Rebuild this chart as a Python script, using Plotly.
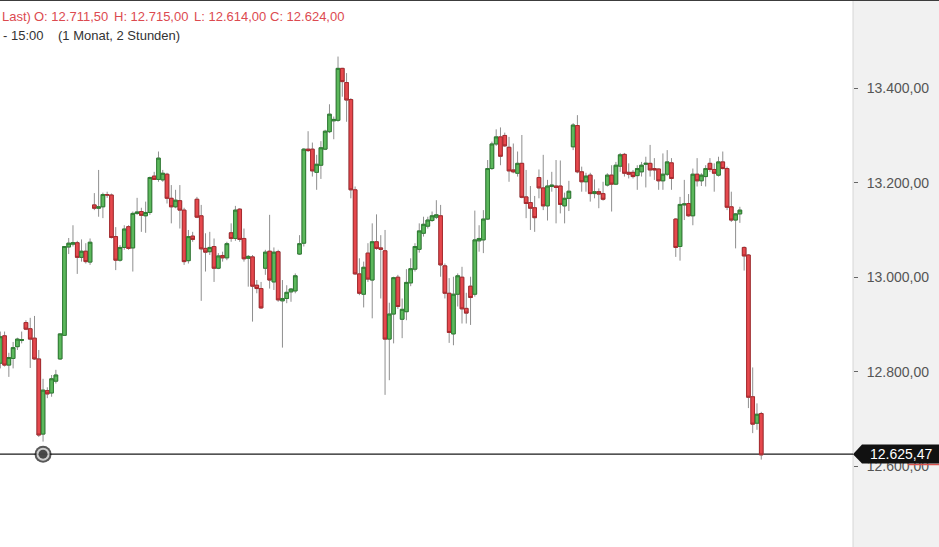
import plotly.graph_objects as go

# ---------------- data (2h candles) ----------------
open_ = [12818, 12876, 12814, 12828, 12853, 12866, 12904, 12891, 12871, 12827,
         12668, 12760, 12755, 12780, 12827, 12877, 13064, 13070, 13073, 13042,
         13055, 13032, 13153, 13146, 13149, 13175, 13174, 13086, 13036, 13063,
         13107, 13062, 13135, 13139, 13130, 13137, 13214, 13207, 13206, 13218,
         13167, 13149, 13162, 13142, 13035, 13087, 13165, 13130, 13061, 13054,
         13065, 13019, 13046, 13041, 13094, 13082, 13144, 13082, 13040, 13043,
         12983, 12976, 13019, 13055, 12990, 13054, 12950, 12955, 12969, 12971,
         13049, 13072, 13271, 13271, 13222, 13237, 13271, 13308, 13331, 13332,
         13442, 13412, 13376, 13185, 13007, 12964, 13051, 12994, 13075, 13062,
         13056, 12869, 12922, 13000, 12911, 12927, 12988, 13017, 13059, 13093,
         13108, 13120, 13127, 13130, 13024, 12966, 12880, 12964, 13000, 12934,
         12981, 12964, 13077, 13079, 13123, 13230, 13282, 13297, 13300, 13275,
         13227, 13220, 13241, 13170, 13158, 13147, 13211, 13189, 13151, 13192,
         13193, 13193, 13151, 13167, 13276, 13321, 13223, 13202, 13216, 13177,
         13181, 13177, 13195, 13216, 13197, 13235, 13260, 13222, 13222, 13215,
         13223, 13239, 13241, 13230, 13229, 13204, 13218, 13242, 13123, 13065,
         13153, 13156, 13130, 13218, 13204, 13213, 13241, 13228, 13216, 13244,
         13230, 13149, 13121, 13134, 13063, 13047, 12747, 12691, 12711.5]
high = [12885, 12885, 12840, 12863, 12872, 12885, 12909, 12914, 12918, 12846,
        12785, 12767, 12793, 12804, 12881, 13066, 13083, 13110, 13077, 13080,
        13072, 13082, 13178, 13227, 13179, 13181, 13177, 13106, 13068, 13110,
        13110, 13139, 13168, 13147, 13160, 13213, 13223, 13266, 13227, 13221,
        13195, 13185, 13195, 13147, 13100, 13096, 13170, 13153, 13093, 13096,
        13082, 13051, 13054, 13075, 13114, 13151, 13146, 13103, 13047, 13047,
        12994, 12990, 13058, 13132, 13063, 13058, 12994, 12983, 12977, 13008,
        13089, 13273, 13309, 13285, 13259, 13288, 13312, 13366, 13340, 13467,
        13443, 13432, 13379, 13192, 13040, 13033, 13072, 13114, 13133, 13089,
        13100, 12946, 13001, 13005, 12955, 13017, 13040, 13072, 13114, 13128,
        13128, 13139, 13163, 13153, 13029, 12998, 13001, 13008, 13022, 12967,
        13001, 13141, 13110, 13142, 13248, 13287, 13313, 13317, 13306, 13297,
        13283, 13266, 13301, 13227, 13193, 13172, 13228, 13259, 13206, 13223,
        13248, 13247, 13179, 13204, 13326, 13343, 13234, 13221, 13221, 13207,
        13188, 13202, 13220, 13237, 13244, 13263, 13263, 13241, 13227, 13237,
        13244, 13255, 13280, 13252, 13230, 13262, 13269, 13252, 13125, 13170,
        13206, 13176, 13230, 13252, 13220, 13237, 13252, 13241, 13255, 13266,
        13234, 13181, 13136, 13149, 13065, 13049, 12809, 12733, 12715]
low = [12807, 12811, 12789, 12807, 12846, 12860, 12888, 12808, 12825, 12662,
       12652, 12744, 12747, 12775, 12825, 12876, 13049, 13065, 13007, 13033,
       13029, 13026, 13142, 13128, 13125, 13168, 13082, 13015, 13033, 13058,
       13058, 13012, 13132, 13096, 13094, 13132, 13206, 13202, 13202, 13156,
       13114, 13146, 13103, 13026, 13029, 13075, 13125, 12950, 13012, 13047,
       12990, 13017, 13033, 13036, 13075, 13077, 13075, 13033, 12980, 12906,
       12966, 12933, 13005, 12976, 12973, 12948, 12851, 12945, 12948, 12966,
       13047, 13065, 13265, 13213, 13185, 13208, 13269, 13305, 13292, 13329,
       13382, 13329, 13167, 13005, 12962, 12936, 12990, 12913, 13058, 12955,
       12751, 12782, 12860, 12933, 12871, 12909, 12981, 13012, 13052, 13086,
       13103, 13117, 13123, 13001, 12955, 12861, 12856, 12938, 12902, 12902,
       12899, 12959, 13054, 13051, 13121, 13227, 13278, 13237, 13276, 13202,
       13220, 13213, 13167, 13125, 13100, 13096, 13167, 13142, 13120, 13181,
       13114, 13135, 13114, 13140, 13269, 13220, 13181, 13181, 13160, 13167,
       13146, 13162, 13192, 13139, 13195, 13223, 13213, 13209, 13209, 13185,
       13213, 13190, 13213, 13206, 13185, 13185, 13214, 13185, 13043, 13035,
       13121, 13128, 13110, 13192, 13193, 13192, 13223, 13181, 13213, 13228,
       13142, 13117, 13061, 13115, 13014, 12723, 12670, 12677, 12614]
close = [12874, 12814, 12830, 12851, 12869, 12868, 12890, 12869, 12827, 12666,
         12761, 12753, 12785, 12793, 12880, 13065, 13072, 13073, 13042, 13055,
         13033, 13074, 13146, 13149, 13175, 13174, 13084, 13036, 13063, 13102,
         13061, 13135, 13138, 13131, 13137, 13211, 13207, 13252, 13220, 13167,
         13149, 13163, 13142, 13033, 13086, 13080, 13127, 13060, 13053, 13063,
         13019, 13045, 13041, 13071, 13082, 13142, 13080, 13039, 13044, 12981,
         12976, 12935, 13053, 12994, 13053, 12952, 12955, 12968, 12975, 13003,
         13071, 13271, 13268, 13225, 13239, 13274, 13309, 13345, 13334, 13442,
         13414, 13375, 13185, 13007, 12966, 13021, 12996, 13075, 13061, 13059,
         12869, 12922, 12999, 12938, 12932, 12989, 13018, 13065, 13098, 13112,
         13121, 13130, 13132, 13026, 12966, 12883, 12964, 13003, 12933, 12924,
         12957, 13079, 13082, 13123, 13230, 13282, 13297, 13256, 13278, 13225,
         13223, 13241, 13169, 13156, 13146, 13126, 13189, 13151, 13193, 13195,
         13190, 13154, 13167, 13182, 13322, 13223, 13202, 13214, 13177, 13181,
         13176, 13165, 13216, 13197, 13237, 13259, 13220, 13218, 13213, 13230,
         13237, 13241, 13227, 13227, 13204, 13218, 13244, 13209, 13063, 13154,
         13155, 13130, 13218, 13204, 13216, 13230, 13228, 13220, 13244, 13230,
         13148, 13121, 13134, 13142, 13045, 12746, 12689, 12710, 12624]

last_price = 12625.47
marked_candle = 10
y_ticks = [12600, 12800, 13000, 13200, 13400]
period_text = ["- 15:00", "(1 Monat, 2 Stunden)"]

# ---------------- helpers ----------------
def de(v):
    s = format(v, ",.2f")
    return s.replace(",", "X").replace(".", ",").replace("X", ".")

x = list(range(len(open_)))
body_hi = [max(o, c) for o, c in zip(open_, close)]
body_lo = [min(o, c) for o, c in zip(open_, close)]

W, H = 939, 547
PLOT_W = 853
px = lambda p: p / PLOT_W  # pixel -> paper x

WICK = "#8f8f8f"
G_FILL, G_LINE = "#5cb85c", "#2e7d32"
R_FILL, R_LINE = "#e5484d", "#a82a2e"
FONT = "Liberation Sans, Arial, sans-serif"

fig = go.Figure()
# wicks (gray)
fig.add_trace(go.Candlestick(
    x=x, open=open_, high=high, low=low, close=close,
    increasing=dict(line=dict(color=WICK, width=1), fillcolor=WICK),
    decreasing=dict(line=dict(color=WICK, width=1), fillcolor=WICK),
    whiskerwidth=0, hoverinfo="skip", showlegend=False))
# bodies
fig.add_trace(go.Candlestick(
    x=x, open=open_, high=body_hi, low=body_lo, close=close,
    increasing=dict(line=dict(color=G_LINE, width=1), fillcolor=G_FILL),
    decreasing=dict(line=dict(color=R_LINE, width=1), fillcolor=R_FILL),
    whiskerwidth=0, hoverinfo="skip", showlegend=False))
# marker on the price line
fig.add_trace(go.Scatter(
    x=[marked_candle] * 3, y=[last_price] * 3, mode="markers",
    marker=dict(size=[17, 13, 9], color=["#111", "#fff", "#111"], line=dict(width=0)),
    hoverinfo="skip", showlegend=False, cliponaxis=False))

y_top = 13586.7
y_bot = 12429.0
ppx = (y_top - y_bot) / H  # value per pixel
vy = lambda p: y_top - p * ppx

shapes = [
    # right axis panel
    dict(type="rect", xref="paper", yref="paper", x0=1, x1=px(W), y0=0, y1=1,
         fillcolor="#f1f1f1", line=dict(width=0), layer="below"),
    dict(type="line", xref="paper", yref="paper", x0=1, x1=1, y0=0, y1=1,
         line=dict(color="#d6d6d6", width=1), layer="below"),
    # top border
    dict(type="line", xref="paper", yref="paper", x0=0, x1=px(W), y0=1, y1=1,
         line=dict(color="#3c3c3c", width=2), layer="above"),
    # price line
    dict(type="line", xref="paper", yref="y", x0=0, x1=1, y0=last_price, y1=last_price,
         line=dict(color="#1a1a1a", width=1.3), layer="below"),
    # red close marker edge
    dict(type="line", xref="paper", yref="y", x0=px(908), x1=px(W),
         y0=vy(464.5), y1=vy(464.5), line=dict(color="#d9534f", width=1.5), layer="above"),
    # black price label
    dict(type="path", xref="paper", yref="y",
         path=(f"M {px(853)},{last_price} L {px(862)},{vy(444.5)} L {px(W)},{vy(444.5)} "
               f"L {px(W)},{vy(463.5)} L {px(862)},{vy(463.5)} Z"),
         fillcolor="#111111", line=dict(width=0), layer="above"),
]

red = "#dc4a50"
ann = []
ohlc_items = [("Last)", None, 0), ("O: ", open_[-1], 32), ("H: ", high[-1], 112),
              ("L: ", low[-1], 192), ("C: ", close[-1], 268)]
for lab, val, p in ohlc_items:
    txt = lab if val is None else lab + de(val)
    ann.append(dict(text=txt, xref="paper", yref="paper", x=px(p), y=1 - 16 / H,
                    xanchor="left", yanchor="middle", showarrow=False,
                    font=dict(family=FONT, size=13, color=red)))
for txt, p in zip(period_text, [1, 56]):
    ann.append(dict(text=txt, xref="paper", yref="paper", x=px(p), y=1 - 35 / H,
                    xanchor="left", yanchor="middle", showarrow=False,
                    font=dict(family=FONT, size=13, color="#333")))
ann.append(dict(text=de(last_price), xref="paper", yref="y", x=px(901), y=last_price,
                xanchor="center", yanchor="middle", showarrow=False,
                font=dict(family=FONT, size=14, color="#ffffff")))

fig.update_layout(
    width=W, height=H, margin=dict(l=0, r=W - PLOT_W, t=0, b=0),
    paper_bgcolor="#ffffff", plot_bgcolor="rgba(0,0,0,0)",
    separators=",.", hovermode=False, showlegend=False,
    boxgap=0.15, boxgroupgap=0,
    xaxis=dict(range=[-0.07, -0.07 + PLOT_W / 4.275], visible=False,
               rangeslider=dict(visible=False), fixedrange=True),
    yaxis=dict(side="right", range=[y_bot, y_top], tickvals=y_ticks, tickformat=",.2f",
               ticks="outside", ticklen=4, tickcolor="#666", showgrid=False, zeroline=False,
               showline=False, ticklabelstandoff=6,
               tickfont=dict(family=FONT, size=14, color="#555"), fixedrange=True),
    shapes=shapes, annotations=ann,
)

fig.write_html("out.html", config={"displayModeBar": False},
               post_script="document.body.style.margin='0px';document.body.style.overflow='hidden';")
